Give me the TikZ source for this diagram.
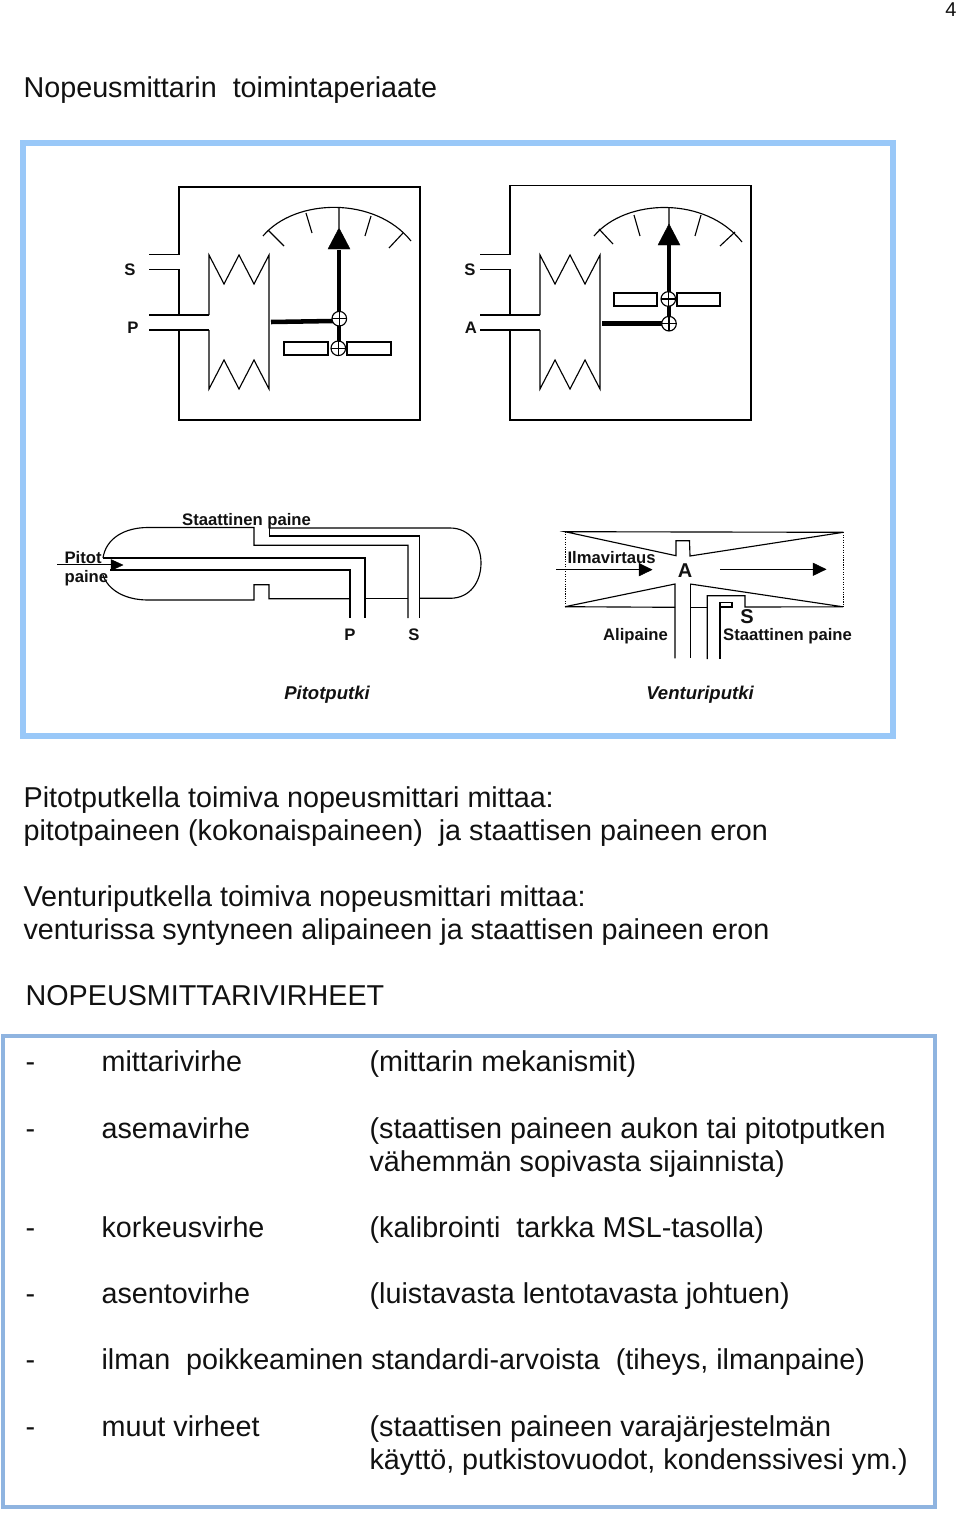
\documentclass[tikz,border=0pt]{standalone}
\usepackage{fontspec}
\setmainfont{Liberation Sans}
\definecolor{cframe}{HTML}{99C8F8}
\definecolor{clist}{HTML}{8FB4E0}
\definecolor{cink}{HTML}{111111}
\tikzset{
  every picture/.style={x=0.75pt, y=-0.75pt, line width=0.9pt},
  frame/.style={draw=#1, line width=4pt},
  frame/.default=cframe,
  wire/.style={draw=black, line width=0.85pt},
  thick bar/.style={draw=black, line width=3.4pt},
  head/.style={fill=black, draw=black, line width=0.3pt},
  body/.style={anchor=base west, font=\fontsize{21.55}{24}\selectfont, text=cink, inner sep=0pt},
  tag/.style={font=\bfseries\fontsize{12.5}{14}\selectfont, text=cink, inner sep=0pt},
  tube name/.style={font=\bfseries\itshape\fontsize{13.9}{15}\selectfont, text=cink, inner sep=0pt},
}
% bellows: #1 is the left edge of the capsule
\newcommand{\bellows}[1]{
  \draw[wire] (#1,315) -- (#1,255) -- (#1+15,284) -- (#1+30,255) -- (#1+45,284) -- (#1+60,255)
    -- (#1+60,389) -- (#1+45,360) -- (#1+30,389) -- (#1+15,360) -- (#1,389) -- (#1,330);
}
% case with its two pipes: #1 is the left wall, #2 its top
\newcommand{\gaugecase}[2]{
  \draw[wire] (#1-30,254.5) -- (#1,254.5) -- (#1,#2) -- (#1+241,#2) -- (#1+241,420) -- (#1,420) -- (#1,330);
  \draw[wire] (#1-30,269.5) -- (#1,269.5) -- (#1,315);
  \draw[wire] (#1-30,315) -- (#1+30,315);
  \draw[wire] (#1-30,330) -- (#1+30,330);
}
\newcommand{\pivot}[2]{
  \draw[wire, fill=white] (#1,#2) circle[radius=7.3];
  \draw[wire] (#1-7.3,#2) -- (#1+7.3,#2) (#1,#2-7.3) -- (#1,#2+7.3);
}
\begin{document}
\begin{tikzpicture}
  \useasboundingbox (0,0) rectangle (960,1513);
  \node[tag, font=\fontsize{15}{16}\selectfont] (pageno) at (951,9.5) {4};
  \node[body] (heading) at (23,97.5) {Nopeusmittarin\ \ toimintaperiaate};
  \draw[frame] (23,143) rectangle (893,736);

  % left gauge
  \gaugecase{179}{187}
  \bellows{209}
  \draw[wire] (263,236) .. controls (295,198) and (375,196) .. (411,241);
  \draw[wire] (268,230) -- (284,246) (306,213) -- (312,233) (339,208) -- (339,228) (371,216) -- (365,236) (403,233) -- (389,248);
  \draw[thick bar] (271,322) -- (333,321);
  \draw[thick bar] (339,250) -- (339,341);
  \fill[head] (328,249) -- (350,249) -- (339,228) -- cycle;
  \draw[wire] (284,342) rectangle (328,355) (347,342) rectangle (391,355);
  \pivot{339.3}{318.7}
  \pivot{338.3}{348.3}
  \node[tag] (s1) at (130,269.5) {S};
  \node[tag] (p1) at (133,327.5) {P};

  % right gauge
  \gaugecase{510}{185.5}
  \bellows{540}
  \draw[wire] (594,236) .. controls (626,198) and (706,196) .. (742,242);
  \draw[wire] (599,229) -- (613,244) (634,215) -- (640,236) (669,208) -- (669,225) (701,215) -- (695,236) (735,232) -- (720,246);
  \draw[thick bar] (602,323.5) -- (662,323.5);
  \draw[thick bar] (669,245) -- (669,316);
  \fill[head] (658,245) -- (680,245) -- (669,224) -- cycle;
  \draw[wire] (614,293) rectangle (657,306) (677,293) rectangle (720,306);
  \pivot{668.3}{299}
  \pivot{669}{323.7}
  \node[tag] (s2) at (470,269.5) {S};
  \node[tag] (a1) at (471,327.5) {A};

  % pitot tube
  \draw[wire] (103,558) .. controls (106,538) and (125,527.5) .. (148,527.5) -- (254,527.5) -- (254,545.3) -- (408,545.3) -- (408,618);
  \draw[wire] (269.3,527.5) -- (269.3,536) -- (419.3,536) -- (419.3,618);
  \draw[wire] (269.3,528) -- (450,528) .. controls (470,528) and (481,545) .. (481,563) .. controls (481,582) and (470,598.3) .. (450,598.3) -- (420,598.3);
  \draw[wire] (103,558) -- (365,558) -- (365,618);
  \draw[wire] (110,570) -- (350,570) -- (350,618);
  \draw[wire] (103,575) .. controls (108,590) and (125,600) .. (148,600) -- (254,600) -- (254,584.7) -- (269,584.7) -- (269,598.7) -- (350,598.7);
  \draw[wire] (365,598.3) -- (408,598.3);
  \draw[wire] (57,564.5) -- (111,564.5);
  \fill[head] (111,559.5) -- (123,565) -- (111,570.5) -- cycle;
  \node[tag] (static1) at (246.5,521) {Staattinen paine};
  \node[tag, anchor=west] (pitot1) at (64,557.5) {Pitot};
  \node[tag, anchor=west] (pitot2) at (64,578) {paine};
  \node[tag] (p2) at (350,634.5) {P};
  \node[tag] (s3) at (414,634.5) {S};
  \node[tube name] (pitotname) at (327,695) {Pitotputki};

  % venturi tube
  \draw[wire] (565,531.7) -- (843.3,532.3) -- (690,556) -- (689.5,540.7) -- (676,540.7) -- (676,555.7) -- cycle;
  \draw[wire] (565,606.7) -- (675,584) -- (675,658.3);
  \draw[wire] (565,606.7) -- (675,607.3);
  \draw[wire] (690.3,583.5) -- (690.3,658.3);
  \draw[wire] (690.3,607.3) -- (707.3,607.3);
  \draw[wire] (690.3,584) -- (843,606.8) -- (745,607) -- (745,595.7) -- (707.3,595.7) -- (707.3,659);
  \draw[wire] (720,659) -- (720,602.7) -- (732,602.7) -- (732,607) -- (720,607);
  \draw[wire, densely dotted, line width=0.6pt] (565,531.7) -- (565,606.7) (843.3,532.3) -- (843.3,606.8);
  \draw[wire] (556,569.7) -- (640,569.7);
  \fill[head] (639,563.3) -- (652,569.7) -- (639,576) -- cycle;
  \draw[wire] (720.3,569.3) -- (813,569.3);
  \fill[head] (813,563) -- (826,569.3) -- (813,575.6) -- cycle;
  \node[tag, anchor=west] (flow) at (567,557.5) {Ilmavirtaus};
  \node[tag, font=\bfseries\fontsize{15}{16}\selectfont] (a2) at (685,570.5) {A};
  \node[tag, font=\bfseries\fontsize{15}{16}\selectfont] (s4) at (747,617) {S};
  \node[tag] (under) at (635.5,636) {Alipaine};
  \node[tag] (static2) at (787.5,636) {Staattinen paine};
  \node[tube name] (venturiname) at (700,695) {Venturiputki};

  % explanations
  \node[body] (t1) at (23,807) {Pitotputkella toimiva nopeusmittari mittaa:};
  \node[body] (t2) at (23,840) {pitotpaineen (kokonaispaineen)\ \ ja staattisen paineen eron};
  \node[body] (t3) at (23,906) {Venturiputkella toimiva nopeusmittari mittaa:};
  \node[body] (t4) at (23,939) {venturissa syntyneen alipaineen ja staattisen paineen eron};
  \node[body] (t5) at (25,1005) {NOPEUSMITTARIVIRHEET};

  % list of errors
  \draw[frame=clist, line width=3.4pt] (3,1036) rectangle (935,1507);
  \foreach \yy/\aa/\bb in {1071/mittarivirhe/{(mittarin mekanismit)},
    1138/asemavirhe/{(staattisen paineen aukon tai pitotputken},
    1237/korkeusvirhe/{(kalibrointi\ \ tarkka MSL-tasolla)},
    1303/asentovirhe/{(luistavasta lentotavasta johtuen)},
    1436/muut virheet/{(staattisen paineen varajärjestelmän}} {
    \node[body] at (25,\yy) {-};
    \node[body] at (101,\yy) {\aa};
    \node[body] at (369,\yy) {\bb};
  }
  \node[body] (e1) at (369,1171) {vähemmän sopivasta sijainnista)};
  \node[body] (e2) at (25,1369) {-};
  \node[body] (e3) at (101,1369) {ilman\ \ poikkeaminen standardi-arvoista\ \ (tiheys, ilmanpaine)};
  \node[body] (e4) at (369,1469) {käyttö, putkistovuodot, kondenssivesi ym.)};
\end{tikzpicture}
\end{document}
